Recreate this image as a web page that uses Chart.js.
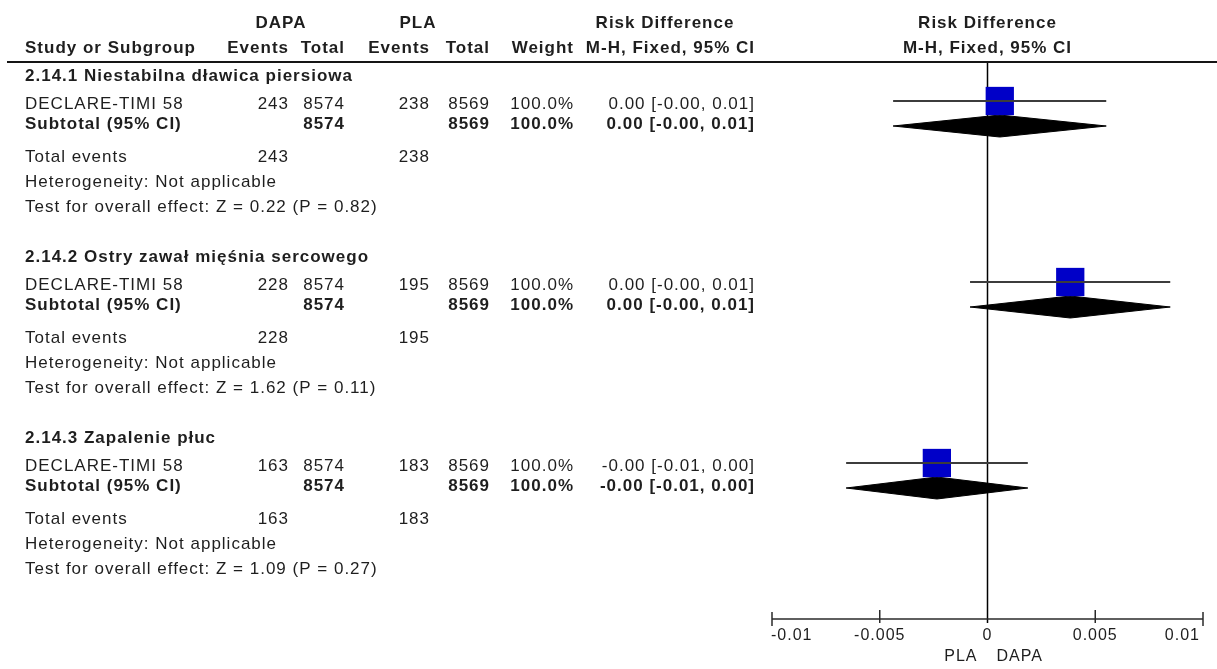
<!DOCTYPE html>
<html>
<head>
<meta charset="utf-8">
<title>Risk Difference – DAPA vs PLA</title>
<script src="https://cdn.jsdelivr.net/npm/chart.js@4/dist/chart.umd.min.js"></script>
<style>
  html, body { margin: 0; padding: 0; background: #ffffff; }
  #wrap { width: 1217px; height: 669px; position: relative; }
  canvas { display: block; }
</style>
</head>
<body>
<div id="wrap"><canvas id="forest" width="1217" height="669"></canvas></div>
<script>
// ---- Data ----
const subgroups = [
  '2.14.1 Niestabilna dławica piersiowa',
  '2.14.2 Ostry zawał mięśnia sercowego',
  '2.14.3 Zapalenie płuc'
];
const studyNames = ['DECLARE-TIMI 58', 'DECLARE-TIMI 58', 'DECLARE-TIMI 58'];
const dapaEvents = [243, 228, 163];
const dapaTotal = [8574, 8574, 8574];
const plaEvents = [238, 195, 183];
const plaTotal = [8569, 8569, 8569];
const weights = ['100.0%', '100.0%', '100.0%'];
const riskDiff = [0.00057, 0.00384, -0.00235];
const ciLow = [-0.00438, -0.00081, -0.00656];
const ciHigh = [0.00551, 0.00848, 0.00187];
const rdLabels = ['0.00 [-0.00, 0.01]', '0.00 [-0.00, 0.01]', '-0.00 [-0.01, 0.00]'];
const heterogeneity = ['Heterogeneity: Not applicable', 'Heterogeneity: Not applicable', 'Heterogeneity: Not applicable'];
const overallEffect = [
  'Test for overall effect: Z = 0.22 (P = 0.82)',
  'Test for overall effect: Z = 1.62 (P = 0.11)',
  'Test for overall effect: Z = 1.09 (P = 0.27)'
];
const tickValues = [-0.01, -0.005, 0, 0.005, 0.01];
const tickLabels = ['-0.01', '-0.005', '0', '0.005', '0.01'];
const favoursLeft = 'PLA';
const favoursRight = 'DAPA';

// ---- Layout (pixel rows on the vertical scale) ----
const GROUP_TOP = 76, GROUP_STEP = 181;
const ROW = { header: 0, study: 28, subtotal: 48, events: 81, hetero: 106, test: 131 };
const MARK_STUDY = 25, MARK_SUBTOTAL = 50, DIAMOND_HALF = 11;
const rowY = (g, kind) => GROUP_TOP + GROUP_STEP * g + ROW[kind];
const markY = (g, off) => GROUP_TOP + GROUP_STEP * g + off;

const COL = { dapaEv: 289, dapaTot: 345, plaEv: 430, plaTot: 490, weight: 574, rd: 755 };
const FONT = '"Liberation Sans", Arial, Helvetica, sans-serif';
const INK = '#1e1e1e';

// ---- Datasets ----
const datasets = [];
subgroups.forEach((_, i) => {
  datasets.push({
    type: 'scatter', showLine: true, clip: false,
    data: [{ x: ciLow[i], y: markY(i, MARK_STUDY) }, { x: ciHigh[i], y: markY(i, MARK_STUDY) }],
    borderColor: '#3c3c3c', borderWidth: 2, pointRadius: 0, fill: false
  });
});
datasets.push({
  type: 'scatter', clip: false,
  data: riskDiff.map((v, i) => ({ x: v, y: markY(i, MARK_STUDY) })),
  pointStyle: 'rect', pointRadius: 20, pointHoverRadius: 20,
  backgroundColor: '#0000c8', borderColor: '#0000c8', borderWidth: 0
});
subgroups.forEach((_, i) => {
  const c = markY(i, MARK_SUBTOTAL);
  datasets.push({
    type: 'scatter', showLine: true, fill: 'shape', clip: false,
    data: [
      { x: ciLow[i], y: c }, { x: riskDiff[i], y: c - DIAMOND_HALF },
      { x: ciHigh[i], y: c }, { x: riskDiff[i], y: c + DIAMOND_HALF },
      { x: ciLow[i], y: c }
    ],
    borderColor: '#000000', backgroundColor: '#000000', borderWidth: 1,
    pointRadius: 0, tension: 0
  });
});

// ---- Drawing helpers ----
function txt(ctx, s, x, y, align, bold, size) {
  ctx.font = (bold ? 'bold ' : '') + (size || 17) + 'px ' + FONT;
  ctx.textAlign = align || 'left';
  ctx.textBaseline = 'middle';
  ctx.fillStyle = INK;
  ctx.fillText(s, x, y);
}

const forestPlugin = {
  id: 'forestTable',
  beforeDatasetsDraw(chart) {
    const ctx = chart.ctx, xs = chart.scales.x, area = chart.chartArea;
    const x0 = xs.getPixelForValue(0);
    ctx.save();
    ctx.strokeStyle = '#000';
    ctx.lineWidth = 1.5;
    ctx.beginPath();
    ctx.moveTo(x0, 62);
    ctx.lineTo(x0, area.bottom + 4);
    ctx.stroke();
    ctx.restore();
  },
  afterDraw(chart) {
    const ctx = chart.ctx, xs = chart.scales.x, area = chart.chartArea;
    ctx.save();
    if ('letterSpacing' in ctx) ctx.letterSpacing = '1px';

    // header rule
    ctx.strokeStyle = '#151515';
    ctx.lineWidth = 2;
    ctx.beginPath();
    ctx.moveTo(7, 62);
    ctx.lineTo(1217, 62);
    ctx.stroke();

    // column headers
    const h1 = 23, h2 = 48;
    txt(ctx, 'DAPA', 281, h1, 'center', true);
    txt(ctx, 'PLA', 418, h1, 'center', true);
    txt(ctx, 'Risk Difference', 665, h1, 'center', true);
    txt(ctx, 'Risk Difference', xs.getPixelForValue(0), h1, 'center', true);
    txt(ctx, 'Study or Subgroup', 25, h2, 'left', true);
    txt(ctx, 'Events', COL.dapaEv, h2, 'right', true);
    txt(ctx, 'Total', COL.dapaTot, h2, 'right', true);
    txt(ctx, 'Events', COL.plaEv, h2, 'right', true);
    txt(ctx, 'Total', COL.plaTot, h2, 'right', true);
    txt(ctx, 'Weight', COL.weight, h2, 'right', true);
    txt(ctx, 'M-H, Fixed, 95% CI', COL.rd, h2, 'right', true);
    txt(ctx, 'M-H, Fixed, 95% CI', xs.getPixelForValue(0), h2, 'center', true);

    // subgroup blocks
    subgroups.forEach((name, g) => {
      txt(ctx, name, 25, rowY(g, 'header'), 'left', true);

      let y = rowY(g, 'study');
      txt(ctx, studyNames[g], 25, y);
      txt(ctx, String(dapaEvents[g]), COL.dapaEv, y, 'right');
      txt(ctx, String(dapaTotal[g]), COL.dapaTot, y, 'right');
      txt(ctx, String(plaEvents[g]), COL.plaEv, y, 'right');
      txt(ctx, String(plaTotal[g]), COL.plaTot, y, 'right');
      txt(ctx, weights[g], COL.weight, y, 'right');
      txt(ctx, rdLabels[g], COL.rd, y, 'right');

      y = rowY(g, 'subtotal');
      txt(ctx, 'Subtotal (95% CI)', 25, y, 'left', true);
      txt(ctx, String(dapaTotal[g]), COL.dapaTot, y, 'right', true);
      txt(ctx, String(plaTotal[g]), COL.plaTot, y, 'right', true);
      txt(ctx, weights[g], COL.weight, y, 'right', true);
      txt(ctx, rdLabels[g], COL.rd, y, 'right', true);

      y = rowY(g, 'events');
      txt(ctx, 'Total events', 25, y);
      txt(ctx, String(dapaEvents[g]), COL.dapaEv, y, 'right');
      txt(ctx, String(plaEvents[g]), COL.plaEv, y, 'right');

      txt(ctx, heterogeneity[g], 25, rowY(g, 'hetero'));
      txt(ctx, overallEffect[g], 25, rowY(g, 'test'));
    });

    // x axis
    const yAxis = area.bottom;
    const xa = xs.getPixelForValue(tickValues[0]);
    const xb = xs.getPixelForValue(tickValues[tickValues.length - 1]);
    ctx.strokeStyle = '#2a2a2a';
    ctx.lineWidth = 1.5;
    ctx.beginPath();
    ctx.moveTo(xa, yAxis);
    ctx.lineTo(xb, yAxis);
    ctx.stroke();
    tickValues.forEach((v, i) => {
      const px = xs.getPixelForValue(v);
      const end = i === 0 || i === tickValues.length - 1;
      if (v !== 0) {
        ctx.beginPath();
        ctx.moveTo(px, end ? yAxis - 7 : yAxis - 9);
        ctx.lineTo(px, end ? yAxis + 7 : yAxis + 4);
        ctx.stroke();
      }
      let align = 'center', lx = px;
      if (i === 0) { align = 'left'; lx = px - 1; }
      if (i === tickValues.length - 1) { align = 'right'; lx = px - 3; }
      txt(ctx, tickLabels[i], lx, yAxis + 17, align, false, 16);
    });
    const x0 = xs.getPixelForValue(0);
    txt(ctx, favoursLeft, x0 - 10, yAxis + 38, 'right', false, 16);
    txt(ctx, favoursRight, x0 + 9, yAxis + 38, 'left', false, 16);
    ctx.restore();
  }
};

new Chart(document.getElementById('forest'), {
  type: 'scatter',
  data: { datasets },
  options: {
    responsive: false,
    devicePixelRatio: 1,
    animation: false,
    events: [],
    layout: { autoPadding: false, padding: { left: 772, right: 14, top: 0, bottom: 50 } },
    plugins: { legend: { display: false }, tooltip: { enabled: false }, title: { display: false } },
    scales: {
      x: { type: 'linear', min: -0.01, max: 0.01, display: false },
      y: { type: 'linear', min: 0, max: 619, reverse: true, display: false }
    }
  },
  plugins: [forestPlugin]
});
</script>
</body>
</html>
